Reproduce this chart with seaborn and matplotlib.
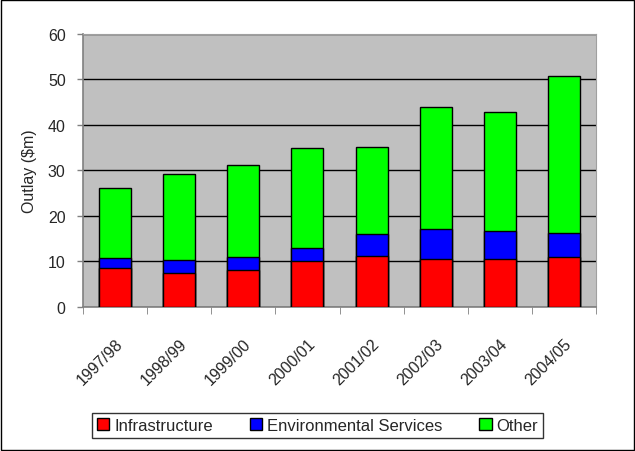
import numpy as np
import pandas as pd
import matplotlib
matplotlib.use("Agg")
import matplotlib.pyplot as plt
import seaborn as sns

#Data ($m)
years = ["1997/98", "1998/99", "1999/00", "2000/01", "2001/02", "2002/03", "2003/04", "2004/05"]
infrastructure = [8.4, 7.3, 8.0, 10.0, 11.1, 10.5, 10.5, 11.0]
environmental = [2.4, 3.0, 3.0, 3.0, 4.9, 6.5, 6.1, 5.3]
other = [15.2, 18.8, 20.2, 21.9, 19.2, 27.0, 26.1, 34.3]

df = pd.DataFrame({"year": years, "Infrastructure": infrastructure,
                   "Environmental Services": environmental, "Other": other})
df["red_top"] = df["Infrastructure"]
df["blue_top"] = df["red_top"] + df["Environmental Services"]
df["green_top"] = df["blue_top"] + df["Other"]

sns.set_style("white")
plt.rcParams["font.family"] = ["Liberation Sans", "DejaVu Sans"]

fig = plt.figure(figsize=(6.35, 4.52), dpi=100)
ax = fig.add_axes([83 / 635, 1 - 307.7 / 452, (596 - 83) / 635, (307.7 - 34.7) / 452])
ax.set_facecolor("#C0C0C0")

#Stacked bars drawn as overlapping cumulative totals
for col, colour in [("green_top", "#00FF00"), ("blue_top", "#0000FF"), ("red_top", "#FF0000")]:
    sns.barplot(data=df, x="year", y=col, color=colour, width=0.5,
                edgecolor="black", linewidth=1, saturation=1, ax=ax, zorder=3)

ax.set_ylim(0, 60)
ax.set_xlim(-0.5, len(years) - 0.5)
ax.set_yticks(np.arange(0, 61, 10))
ax.yaxis.grid(True, color="black", linewidth=1)
ax.set_axisbelow(True)
ax.tick_params(axis="y", labelsize=11.5, length=4.5, width=1, pad=8, left=True, color="#808080")
ax.set_xticks(range(len(years)))
ax.set_xticklabels(years, rotation=45, ha="right", rotation_mode="anchor", fontsize=11.5)
ax.set_xticks(np.arange(-0.5, len(years)), minor=True)
ax.tick_params(axis="x", which="major", length=0, pad=21)
ax.tick_params(axis="x", which="minor", length=5, bottom=True, color="#808080")
ax.set_xlabel("")
ax.set_ylabel("Outlay ($m)", fontsize=11.5, labelpad=8)
for s in ["top", "right"]:
    ax.spines[s].set_color("#A0A0A0")
for s in ["left", "bottom"]:
    ax.spines[s].set_color("#808080")
    ax.spines[s].set_linewidth(1.2)

#Legend
handles = [plt.Rectangle((0, 0), 1, 1, facecolor=c, edgecolor="black") for c in ["#FF0000", "#0000FF", "#00FF00"]]
fig.legend(handles, ["Infrastructure", "Environmental Services", "Other"], ncol=3,
           loc="center", bbox_to_anchor=(0.5, 0.057), fontsize=12, frameon=True,
           fancybox=False, edgecolor="black", handlelength=0.75, handleheight=0.75,
           handletextpad=0.3, columnspacing=2.2, borderpad=0.3)

#Figure border
fig.patches.append(plt.Rectangle((0.002, 0.002), 0.996, 0.996, transform=fig.transFigure,
                                 fill=False, edgecolor="black", linewidth=1))

fig.savefig("out.png", dpi=100)
